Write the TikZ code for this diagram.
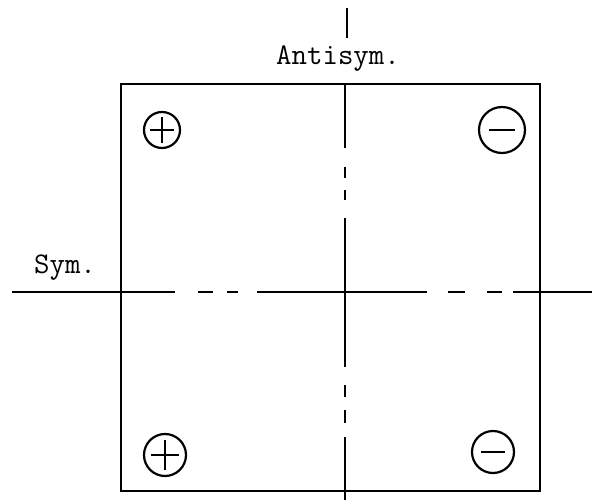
\documentclass[tikz,border=0pt]{standalone}
\usepackage{tikz}

\tikzset{
  axislabel/.style={font=\ttfamily\fontsize{30}{36}\selectfont, inner sep=0pt, anchor=base},
  poscharge/.style={circle, draw, line width=2.2pt, inner sep=0pt, minimum size=#1,
    path picture={
      \draw[line width=1.7pt] ([xshift=0.17*#1]path picture bounding box.west) -- ([xshift=-0.17*#1]path picture bounding box.east);
      \draw[line width=1.7pt] ([yshift=-0.15*#1]path picture bounding box.north) -- ([yshift=0.15*#1]path picture bounding box.south);
    }},
  negcharge/.style={circle, draw, line width=2.2pt, inner sep=0pt, minimum size=#1,
    path picture={
      \draw[line width=2pt] ([xshift=0.21*#1]path picture bounding box.west) -- ([xshift=-0.21*#1]path picture bounding box.east);
    }}
}

\begin{document}
\begin{tikzpicture}[x=1pt, y=-1pt]
\useasboundingbox (0,0) rectangle (592,500);

\coordinate (top left) at (121,84);
\coordinate (bottom right) at (540,491);
\draw[line width=2.3pt] (top left) rectangle (bottom right);

\node[axislabel] (antisym) at (338,65) {Antisym.};
\node[axislabel] (sym) at (65,273) {Sym.};

\coordinate (antisym tick top) at (347,8);
\coordinate (antisym tick bottom) at (347,38);
\draw[line width=2.7pt] (antisym tick top) -- (antisym tick bottom);

\coordinate (antisym axis top) at (345,84);
\coordinate (antisym axis bottom) at (345,500);
\draw[line width=2.7pt, dash pattern=on 64pt off 19pt on 11pt off 12pt on 10pt off 18pt on 149pt off 18pt on 12pt off 13pt on 13pt off 14pt on 70pt off 10pt]
  (antisym axis top) -- (antisym axis bottom);

\coordinate (sym axis left) at (12,292);
\coordinate (sym axis right) at (592,292);
\draw[line width=2.5pt, dash pattern=on 163pt off 23pt on 15pt off 14pt on 11pt off 19pt on 170pt off 21pt on 17pt off 22pt on 15pt off 11pt on 90pt off 10pt]
  (sym axis left) -- (sym axis right);

\node[poscharge=36pt] (plus top) at (162,130) {};
\node[negcharge=46pt] (minus top) at (502,130) {};
\node[poscharge=42pt] (plus bottom) at (165,455) {};
\node[negcharge=42pt] (minus bottom) at (493,452) {};
\end{tikzpicture}
\end{document}
